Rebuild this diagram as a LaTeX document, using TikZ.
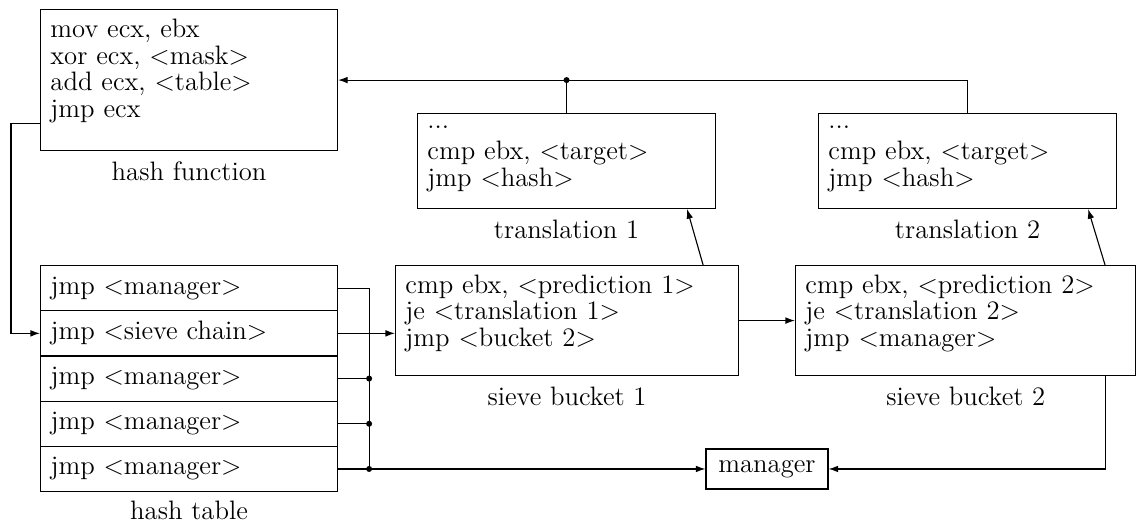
\documentclass[tikz,border=0pt]{standalone}
\usetikzlibrary{calc,arrows.meta}
\begin{document}
\begin{tikzpicture}[x=0.45pt, y=-0.45pt,
  font=\fontsize{12pt}{12pt}\selectfont,
  box/.style={draw, line width=0.5pt, inner sep=0pt, anchor=north west},
  code/.style={anchor=base west, inner sep=0pt, text width=200pt, align=left},
  row/.style={draw, line width=0.5pt, anchor=north west, inner ysep=0pt,
    inner xsep=4.5pt, text width=124.65pt, align=left,
    minimum width=133.65pt, minimum height=20.34pt},
  boxlabel/.style={anchor=base, inner sep=0pt},
  link/.style={line width=0.5pt},
  arr/.style={link, -{Latex[length=4.3pt,width=3pt]}},
  dot/.style={circle, fill, inner sep=0pt, minimum size=2.7pt}]
\useasboundingbox (0,0) rectangle (1136,525);

% hash function
\node[box, minimum width=133.65pt, minimum height=63.45pt] (hf) at (40,9) {};
\node[code] at ($(hf.north west)+(10,28.5)$)
  {mov ecx, ebx\\ xor ecx, $<$mask$>$\\ add ecx, $<$table$>$\\ jmp ecx};
\node[boxlabel] at ($(hf.south)+(0,29)$) {hash function};

% hash table
\node[row] (r1) at (40,265)   {jmp $<$manager$>$};
\node[row] (r2) at (40,310.2) {jmp $<$sieve chain$>$};
\node[row] (r3) at (40,355.4) {jmp $<$manager$>$};
\node[row] (r4) at (40,400.6) {jmp $<$manager$>$};
\node[row] (r5) at (40,445.8) {jmp $<$manager$>$};
\node[boxlabel] at ($(r5.south)+(0,27)$) {hash table};

% translations
\node[box, minimum width=134.1pt, minimum height=42.75pt] (t1) at (417,113) {};
\node[code] at ($(t1.north west)+(10,15.5)$)
  {...\\[2pt] cmp ebx, $<$target$>$\\ jmp $<$hash$>$};
\node[boxlabel] at ($(t1.south)+(0,29)$) {translation 1};

\node[box, minimum width=134.1pt, minimum height=42.75pt] (t2) at (818,113) {};
\node[code] at ($(t2.north west)+(10,15.5)$)
  {...\\[2pt] cmp ebx, $<$target$>$\\ jmp $<$hash$>$};
\node[boxlabel] at ($(t2.south)+(0,29)$) {translation 2};

% sieve buckets
\node[box, minimum width=154.35pt, minimum height=49.5pt] (sb1) at (395,265) {};
\node[code] at ($(sb1.north west)+(10,28)$)
  {cmp ebx, $<$prediction 1$>$\\ je $<$translation 1$>$\\ jmp $<$bucket 2$>$};
\node[boxlabel] at ($(sb1.south)+(0,29)$) {sieve bucket 1};

\node[box, minimum width=153.2pt, minimum height=49.5pt] (sb2) at (795,265) {};
\node[code] at ($(sb2.north west)+(10,28)$)
  {cmp ebx, $<$prediction 2$>$\\ je $<$translation 2$>$\\ jmp $<$manager$>$};
\node[boxlabel] at ($(sb2.south)+(0,29)$) {sieve bucket 2};

% manager
\coordinate (mx) at (767,0);
\node[draw, line width=0.5pt, inner sep=0pt, minimum width=54.9pt,
  minimum height=18pt] (mgr) at (r5.east -| mx) {manager};

% hash function -> hash table
\coordinate (hfout) at ($(hf.south west)+(0,-28)$);
\draw[arr] (hfout) -- ++(-29,0) |- (r2.west);

% translations -> hash function
\draw[arr] (t2.north) |- (hf.east);
\draw[link] (t1.north) -- (t1.north |- hf.east) node[dot] {};

% hash table entries
\coordinate (bus) at ($(r1.east)+(31,0)$);
\draw[link] (r1.east) -- (bus) -- (bus |- r5.east);
\draw[link] (r3.east) -- (bus |- r3.east) node[dot] {};
\draw[link] (r4.east) -- (bus |- r4.east) node[dot] {};
\node[dot] at (bus |- r5.east) {};
\draw[arr] (r5.east) -- (mgr.west);
\draw[arr] (r2.east) -- (r2.east -| sb1.west);

% sieve chain
\draw[arr] (sb1.east) -- (sb2.west);
\draw[arr] ($(sb1.north east)+(-36,0)$) -- ($(t1.south east)+(-29,0)$);
\draw[arr] ($(sb2.north east)+(-31.5,0)$) -- ($(t2.south east)+(-29,0)$);
\draw[arr] ($(sb2.south east)+(-31.5,0)$) |- (mgr.east);
\end{tikzpicture}
\end{document}
